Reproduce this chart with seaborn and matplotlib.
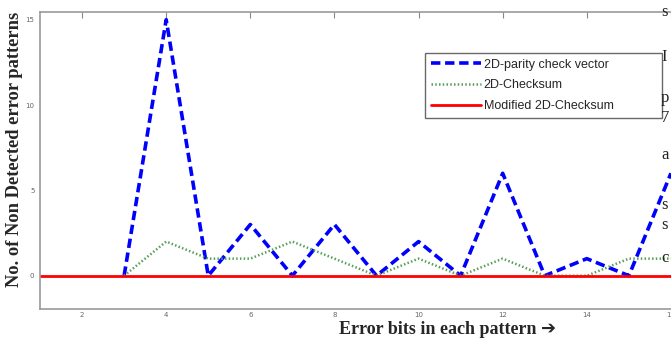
import numpy as np
import pandas as pd
import seaborn as sns
import matplotlib.pyplot as plt

# values
error_bits = [3, 4, 5, 6, 7, 8, 9, 10, 11, 12, 13, 14, 15, 16]
parity_vector = [0, 15, 0, 3, 0, 3, 0, 2, 0, 6, 0, 1, 0, 6]
checksum_2d = [0, 2, 1, 1, 2, 1, 0, 1, 0, 1, 0, 0, 1, 1]
red_bits = [1, 17]
modified_checksum = [0, 0]

x_ticks = [2, 4, 6, 8, 10, 12, 14, 16]
y_ticks = [0, 5, 10, 15]

df_a = pd.DataFrame({'bits': error_bits, 'parity': parity_vector, 'checksum': checksum_2d})
df_b = pd.DataFrame({'bits': red_bits, 'modified': modified_checksum})

sns.set_style("white")

fig = plt.figure(figsize=(6.71, 3.38), dpi=100)
W, H = 671, 338
ax = fig.add_axes([40 / W, 1 - 309 / H, 673 / W, 297 / H])

sns.lineplot(data=df_a, x='bits', y='parity', ax=ax, color='#0000ff',
             linewidth=2.6, linestyle=(0, (2.6, 1.3)), label='2D-parity check vector')
sns.lineplot(data=df_a, x='bits', y='checksum', ax=ax, color='#55a055',
             linewidth=1.8, linestyle=(0, (0.6, 0.9)), label='2D-Checksum')
sns.lineplot(data=df_b, x='bits', y='modified', ax=ax, color='#ff0000',
             linewidth=2.0, label='Modified 2D-Checksum')

ax.set_xlim(1, 17)
ax.set_ylim(-1.95, 15.45)
ax.set_xticks(x_ticks)
ax.set_yticks(y_ticks)
ax.set_xlabel('')
ax.set_ylabel('')
ax.tick_params(direction='in', length=4, width=0.8, color='#888888',
               labelsize=5, labelcolor='#666666', top=True, right=True)
ax.tick_params(axis='x', pad=2)
ax.tick_params(axis='y', pad=4)
for s in ax.spines.values():
    s.set_color('#999999')
    s.set_linewidth(1.2)

leg = ax.legend(loc='upper left', bbox_to_anchor=(385 / 673, 1 - 41 / 297, 237 / 673, 0.0),
                mode='expand', prop={'family': 'Liberation Sans', 'size': 9},
                frameon=True, fancybox=False, borderpad=0.45, labelspacing=0.7,
                handlelength=4.0, handletextpad=0.25, borderaxespad=0)
leg.get_frame().set_edgecolor('#444444')
leg.get_frame().set_linewidth(1.0)

fig.text(15 / W, 1 - 149 / H, 'No. of Non Detected error patterns', rotation=90,
         ha='center', va='center', fontsize=13.3, fontweight='bold',
         family=['Liberation Serif', 'DejaVu Serif'])
fig.text(448 / W, 1 - 329 / H, 'Error bits in each pattern \u2794', ha='center', va='center',
         fontsize=13, fontweight='bold', family=['Liberation Serif', 'DejaVu Sans'])

# fragments of page text on the right edge
frag = [('s', 12), ('I', 57), ('p', 98), ('7', 118), ('a', 155), ('s', 205), ('s', 225), ('c', 258)]
for ch, yy in frag:
    fig.text(661 / W, 1 - yy / H, ch, ha='left', va='center', fontsize=12,
             family='Liberation Serif', color='#222222')

fig.savefig('out.png', dpi=100)
